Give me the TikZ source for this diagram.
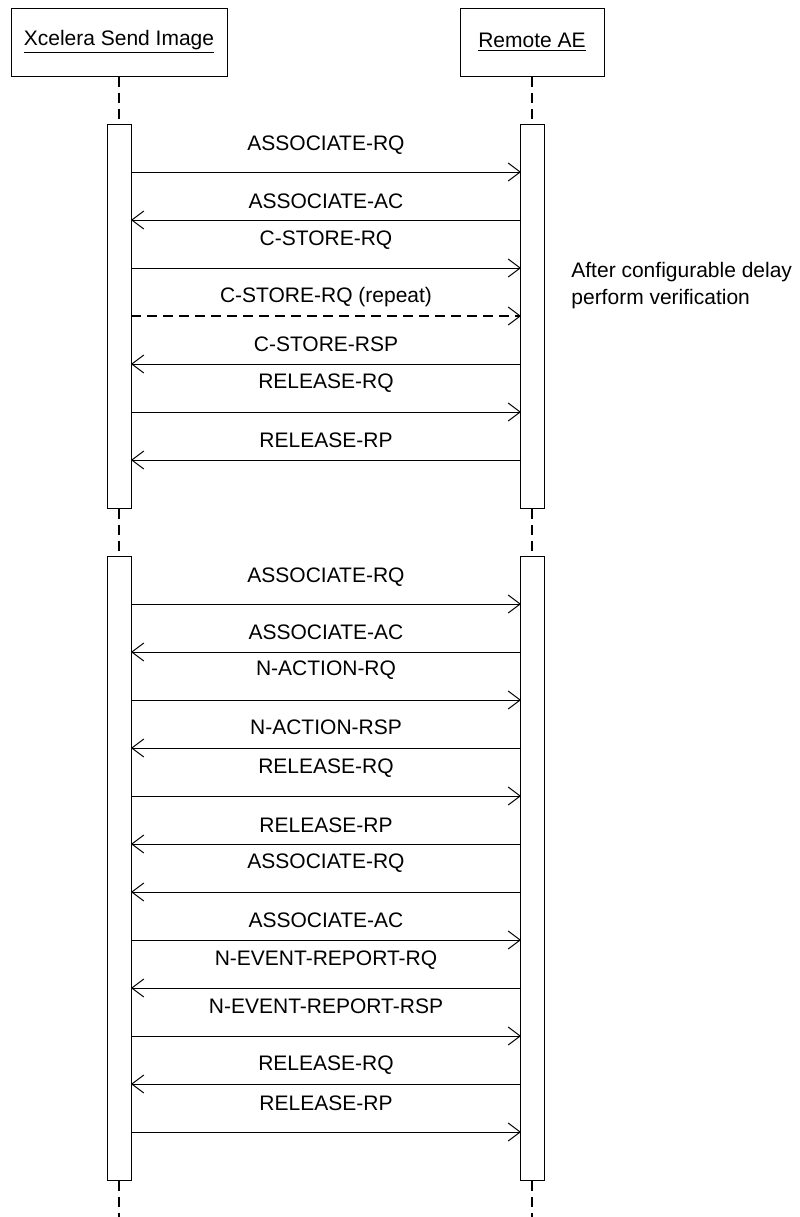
\documentclass[tikz,border=0pt]{standalone}
\usepackage{fontspec}
\setmainfont{Liberation Sans}
\usetikzlibrary{arrows.meta}
\tikzset{
  actor/.style={draw,line width=0.5pt,minimum height=34pt,inner sep=0pt},
  bar/.style={draw,line width=0.5pt,fill=white,minimum width=12pt,inner sep=0pt},
  life/.style={line width=1pt,dash pattern=on 5pt off 3pt},
  call/.style={line width=0.5pt,-{Straight Barb[length=6pt,width=9pt,line width=0.5pt]}},
  rep/.style={call,line width=0.8pt,dash pattern=on 5pt off 3pt},
  lbl/.style={inner sep=0pt}
}

\begin{document}
\begin{tikzpicture}[x=0.5pt,y=-0.5pt,font=\fontsize{10.5}{13.5}\selectfont]
  \useasboundingbox (0,0) rectangle (799,1217);

  % participants
  \node[actor,minimum width=108pt] (snd) at (119,42) {\underline{Xcelera Send Image}};
  \node[actor,minimum width=72pt] (rae) at (532,42) {\underline{Remote AE}};

  % lifelines
  \coordinate (sndEnd) at (119,1217);
  \coordinate (raeEnd) at (532,1217);
  \draw[life] (snd.south) -- (sndEnd);
  \draw[life] (rae.south) -- (raeEnd);

  % activation bars
  \node[bar,minimum height=192pt,anchor=north] (sndA) at (119,124) {};
  \node[bar,minimum height=192pt,anchor=north] (raeA) at (532,124) {};
  \node[bar,minimum height=312pt,anchor=north] (sndB) at (119,556) {};
  \node[bar,minimum height=312pt,anchor=north] (raeB) at (532,556) {};

  % messages: arrow y / label y / from / to / style / text
  \foreach \ay/\ly/\a/\b/\sty/\txt [count=\i] in {
      172/145/s/r/call/ASSOCIATE-RQ,
      220/201/r/s/call/ASSOCIATE-AC,
      268/240/s/r/call/C-STORE-RQ,
      316/297/s/r/rep/{C-STORE-RQ (repeat)},
      364/344/r/s/call/C-STORE-RSP,
      412/383/s/r/call/RELEASE-RQ,
      460/440/r/s/call/RELEASE-RP,
      604/577/s/r/call/ASSOCIATE-RQ,
      652/632/r/s/call/ASSOCIATE-AC,
      700/670/s/r/call/N-ACTION-RQ,
      748/727/r/s/call/N-ACTION-RSP,
      796/768/s/r/call/RELEASE-RQ,
      844/825/r/s/call/RELEASE-RP,
      892/863/r/s/call/ASSOCIATE-RQ,
      940/920/s/r/call/ASSOCIATE-AC,
      988/960/r/s/call/N-EVENT-REPORT-RQ,
      1036/1006/s/r/call/N-EVENT-REPORT-RSP,
      1084/1065/r/s/call/RELEASE-RQ,
      1132/1103/s/r/call/RELEASE-RP} {
    \coordinate (s\i) at (131,\ay);
    \coordinate (r\i) at (521,\ay);
    \draw[\sty] (\a\i) -- (\b\i);
    \node[lbl] (m\i) at (326,\ly) {\txt};
  }

  % note
  \node[lbl,anchor=north west,align=left] (note) at (571,262)
    {After configurable delay\\perform verification};
\end{tikzpicture}
\end{document}
